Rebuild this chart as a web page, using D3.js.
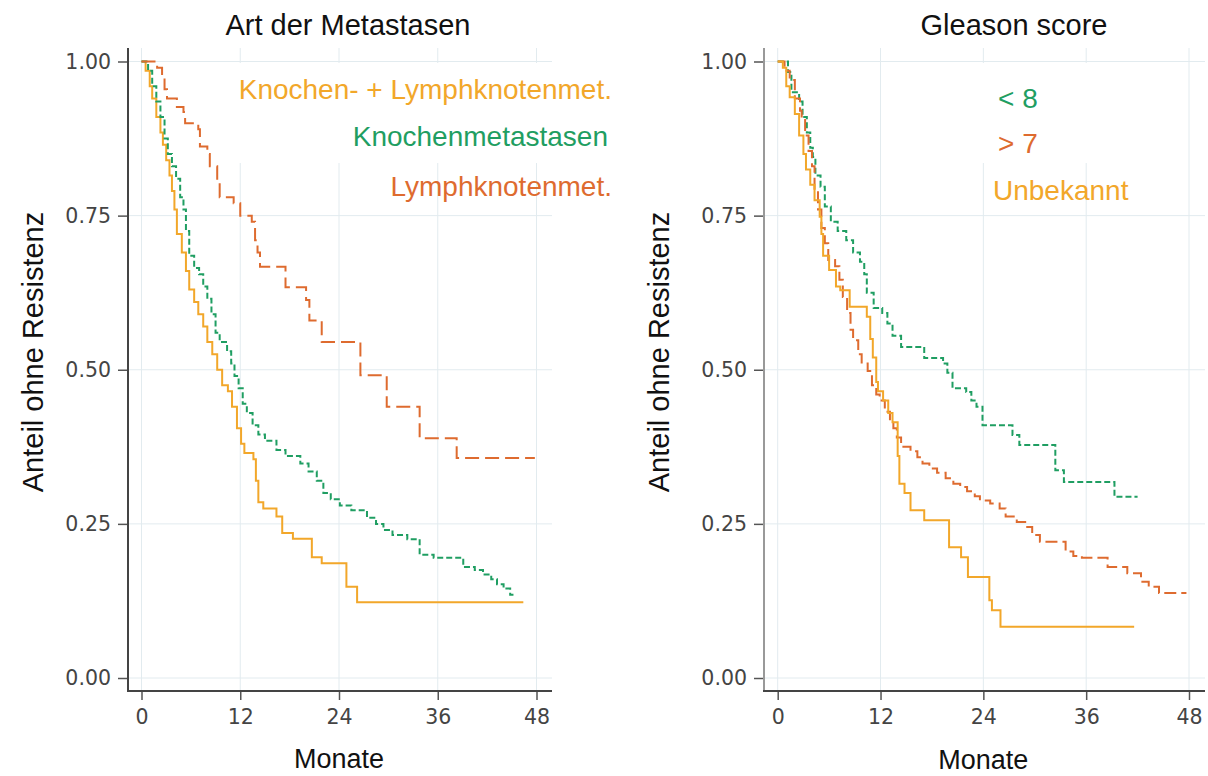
<!DOCTYPE html>
<html>
<head>
<meta charset="utf-8">
<script src="https://cdn.jsdelivr.net/npm/d3@7"></script>
<style>
  body { margin: 0; background: #fff; }
  svg text { font-family: "Liberation Sans", Arial, sans-serif; }
  .tick text { font-family: "DejaVu Sans", Verdana, sans-serif; }
</style>
</head>
<body>
<div id="chart"></div>
<script>
// Kaplan-Meier steps: [month, share without resistance]
// left panel: Art der Metastasen
const boneLymph = [[0,1],[0.5,0.985],[1.0,0.96],[1.3,0.94],[1.8,0.91],[2.3,0.885],[2.6,0.865],[3.0,0.84],[3.4,0.815],[3.7,0.79],
  [4.0,0.76],[4.3,0.72],[4.9,0.69],[5.4,0.66],[5.8,0.63],[6.4,0.61],[6.9,0.59],[7.5,0.57],[8.0,0.545],[8.6,0.525],[9.2,0.5],
  [9.8,0.475],[10.5,0.465],[11.0,0.44],[11.6,0.405],[12.1,0.38],[12.5,0.365],[13.6,0.355],[13.9,0.32],[14.2,0.285],[14.8,0.275],
  [16.4,0.262],[17.1,0.235],[18.4,0.226],[20.7,0.196],[21.9,0.186],[24.9,0.148],[26.2,0.123],[46.4,0.123]];
const bone = [[0,1],[0.8,0.985],[1.3,0.96],[1.8,0.935],[2.3,0.91],[2.8,0.875],[3.2,0.85],[3.7,0.83],[4.2,0.81],[4.7,0.78],
  [5.1,0.76],[5.4,0.725],[5.8,0.685],[6.4,0.665],[7.0,0.655],[7.5,0.635],[8.0,0.615],[8.5,0.59],[9.0,0.56],[9.5,0.545],
  [10.4,0.53],[10.9,0.51],[11.3,0.49],[11.8,0.47],[12.3,0.445],[12.8,0.43],[13.5,0.41],[14.2,0.395],[15.0,0.385],[16.4,0.37],
  [17.5,0.36],[19.3,0.348],[20.3,0.335],[21.3,0.32],[22.1,0.3],[23.0,0.29],[24.1,0.28],[25.5,0.272],[27.4,0.26],[28.5,0.25],
  [29.4,0.24],[30.5,0.232],[32.3,0.225],[33.8,0.2],[35.5,0.195],[39.1,0.18],[40.5,0.175],[41.5,0.168],[42.5,0.16],
  [43.2,0.152],[44.0,0.145],[44.8,0.135],[45.2,0.135]];
const lymph = [[0,1],[1.9,0.99],[2.5,0.975],[2.8,0.955],[3.1,0.94],[4.3,0.926],[5.1,0.918],[5.3,0.9],[6.9,0.89],[7.1,0.862],
  [8.0,0.85],[8.3,0.83],[9.2,0.805],[9.5,0.78],[11.2,0.77],[12.0,0.75],[13.4,0.74],[13.8,0.71],[14.1,0.69],[14.4,0.667],
  [17.5,0.634],[20.0,0.613],[20.4,0.58],[21.9,0.545],[26.6,0.491],[29.8,0.44],[33.8,0.389],[38.3,0.357],[47.8,0.357]];

// right panel: Gleason score
const gleasonLow = [[0,1],[1.2,0.983],[1.6,0.95],[2.5,0.935],[2.9,0.91],[3.4,0.885],[3.8,0.86],[4.1,0.845],[4.4,0.815],
  [5.0,0.797],[5.5,0.765],[6.2,0.74],[7.0,0.725],[8.0,0.71],[8.8,0.69],[9.6,0.675],[10.1,0.655],[10.4,0.625],[11.2,0.6],
  [12.2,0.592],[12.8,0.575],[13.4,0.555],[14.4,0.537],[17.1,0.519],[19.3,0.51],[19.8,0.495],[20.4,0.47],[22.0,0.464],
  [22.6,0.45],[23.2,0.44],[23.9,0.41],[27.4,0.394],[28.2,0.378],[32.4,0.337],[33.4,0.318],[39.3,0.294],[42.0,0.294]];
const gleasonHigh = [[0,1],[0.8,0.985],[1.4,0.97],[2.0,0.94],[2.6,0.92],[2.8,0.905],[3.2,0.88],[3.6,0.855],[4.0,0.83],
  [4.3,0.79],[4.7,0.76],[5.1,0.73],[5.5,0.705],[5.9,0.678],[6.7,0.668],[7.2,0.646],[7.6,0.618],[8.1,0.592],[8.5,0.565],
  [8.8,0.548],[9.4,0.525],[9.8,0.51],[10.5,0.498],[11.0,0.475],[11.5,0.46],[11.9,0.45],[12.5,0.432],[13.1,0.418],[13.5,0.405],
  [13.9,0.39],[14.4,0.375],[15.5,0.368],[16.3,0.358],[16.9,0.348],[17.7,0.34],[18.6,0.333],[19.6,0.324],[20.5,0.315],
  [21.3,0.31],[22.1,0.303],[23.0,0.295],[23.6,0.288],[24.8,0.283],[25.9,0.275],[26.6,0.262],[27.9,0.253],[29.0,0.245],
  [29.7,0.232],[30.6,0.221],[33.6,0.205],[34.5,0.198],[35.5,0.195],[38.5,0.18],[40.8,0.17],[42.4,0.156],[43.3,0.148],
  [44.5,0.138],[47.7,0.138]];
const gleasonUnknown = [[0,1],[0.6,0.99],[1.0,0.96],[1.4,0.942],[2.0,0.915],[2.5,0.88],[3.0,0.85],[3.3,0.825],[3.8,0.8],
  [4.3,0.775],[4.9,0.748],[5.1,0.72],[5.3,0.685],[6.0,0.662],[6.8,0.635],[7.3,0.629],[8.4,0.602],[10.4,0.586],[10.8,0.55],
  [11.1,0.52],[11.5,0.48],[11.7,0.465],[12.3,0.45],[12.9,0.43],[13.4,0.415],[14.0,0.36],[14.2,0.315],[14.8,0.3],[15.5,0.272],
  [17.1,0.256],[20.0,0.212],[21.4,0.196],[22.2,0.164],[24.7,0.126],[25.0,0.11],[26.0,0.083],[41.6,0.083]];

const xTicks = [0, 12, 24, 36, 48];
const yTicks = [0, 0.25, 0.5, 0.75, 1];

const yellow = "#f2a72a", green = "#1f9e62", orange = "#de6b2f";

const svg = d3.select("#chart").append("svg")
    .attr("width", 1208)
    .attr("height", 776);

// y scale is shared by both panels
const y = d3.scaleLinear().domain([0, 1]).range([678, 61.5]);

// Draw one survival panel
function drawPanel(p)
{
    const x = d3.scaleLinear().domain([0, 48]).range(p.xRange);
    const g = svg.append("g");

    // grid
    g.selectAll(".vgrid").data(xTicks).enter().append("line")
        .attr("x1", d => x(d)).attr("x2", d => x(d))
        .attr("y1", 48).attr("y2", 691)
        .attr("stroke", "#e2ebef").attr("stroke-width", 1);
    g.selectAll(".hgrid").data(yTicks).enter().append("line")
        .attr("x1", p.axisLeft).attr("x2", p.axisRight)
        .attr("y1", d => y(d)).attr("y2", d => y(d))
        .attr("stroke", "#e2ebef").attr("stroke-width", 1);

    // white legend background hides the grid
    g.append("rect")
        .attr("x", p.box[0]).attr("y", p.box[1])
        .attr("width", p.box[2]).attr("height", p.box[3])
        .attr("fill", "#fff");

    // curves
    const line = d3.line()
        .x(d => x(d[0]))
        .y(d => y(d[1]))
        .curve(d3.curveStepAfter);

    p.series.forEach(s =>
    {
        g.append("path")
            .datum(s.data)
            .attr("d", line)
            .attr("fill", "none")
            .attr("stroke", s.color)
            .attr("stroke-width", 2)
            .attr("stroke-dasharray", s.dash);
    });

    // y axis
    const yAxis = g.append("g")
        .attr("transform", `translate(${p.axisLeft},0)`)
        .call(d3.axisLeft(y).tickValues(yTicks).tickFormat(d3.format(".2f")).tickSize(10).tickPadding(7));
    yAxis.select(".domain").remove();
    yAxis.selectAll(".tick line").attr("stroke", "#555").attr("stroke-width", 1.5);
    yAxis.selectAll(".tick text").attr("fill", "#444").style("font-size", "20.5px");
    g.append("line")
        .attr("x1", p.axisLeft).attr("x2", p.axisLeft)
        .attr("y1", 48).attr("y2", 691)
        .attr("stroke", p.yAxisColor).attr("stroke-width", 2);

    // x axis
    const xAxis = g.append("g")
        .attr("transform", "translate(0,691)")
        .call(d3.axisBottom(x).tickValues(xTicks).tickSize(9).tickPadding(9));
    xAxis.select(".domain").remove();
    xAxis.selectAll(".tick line").attr("stroke", "#555").attr("stroke-width", 1.5);
    xAxis.selectAll(".tick text").attr("fill", "#444").style("font-size", "20.5px");
    g.append("line")
        .attr("x1", p.axisLeft - 1).attr("x2", p.axisRight)
        .attr("y1", 691).attr("y2", 691)
        .attr("stroke", "#444").attr("stroke-width", 2);

    // titles
    g.append("text")
        .attr("x", p.titleX).attr("y", 35)
        .attr("text-anchor", "middle")
        .style("font-size", "29px").attr("fill", "#111")
        .text(p.title);
    g.append("text")
        .attr("x", (p.xRange[0] + p.xRange[1]) / 2).attr("y", p.xLabelY)
        .attr("text-anchor", "middle")
        .style("font-size", "27px").attr("fill", "#111")
        .text("Monate");
    g.append("text")
        .attr("transform", `translate(${p.yLabelX},352) rotate(-90)`)
        .attr("text-anchor", "middle")
        .style("font-size", "29px").attr("fill", "#111")
        .text("Anteil ohne Resistenz");

    // legend labels
    g.selectAll(".lab").data(p.series).enter().append("text")
        .attr("x", s => s.labelX).attr("y", s => s.labelY)
        .attr("text-anchor", p.labelAnchor)
        .style("font-size", "28px")
        .attr("fill", s => s.color)
        .text(s => s.name);
}

drawPanel({
    xRange: [141.5, 536.5], axisLeft: 128, axisRight: 552,
    yAxisColor: "#444", title: "Art der Metastasen", titleX: 348,
    xLabelY: 768, yLabelX: 43, box: [222, 63, 393, 100], labelAnchor: "end",
    series: [
        {name: "Knochen- + Lymphknotenmet.", data: boneLymph, color: yellow, dash: null, labelX: 612, labelY: 99},
        {name: "Knochenmetastasen", data: bone, color: green, dash: "6,3", labelX: 608, labelY: 146},
        {name: "Lymphknotenmet.", data: lymph, color: orange, dash: "14,6", labelX: 612, labelY: 196}
    ]
});

drawPanel({
    xRange: [777.7, 1189], axisLeft: 764, axisRight: 1205,
    yAxisColor: "#999", title: "Gleason score", titleX: 1014,
    xLabelY: 769, yLabelX: 669, box: [975, 63, 135, 100], labelAnchor: "start",
    series: [
        {name: "< 8", data: gleasonLow, color: green, dash: "6,3", labelX: 998, labelY: 108},
        {name: "> 7", data: gleasonHigh, color: orange, dash: "12,5", labelX: 998, labelY: 153},
        {name: "Unbekannt", data: gleasonUnknown, color: yellow, dash: null, labelX: 993, labelY: 200}
    ]
});
</script>
</body>
</html>
